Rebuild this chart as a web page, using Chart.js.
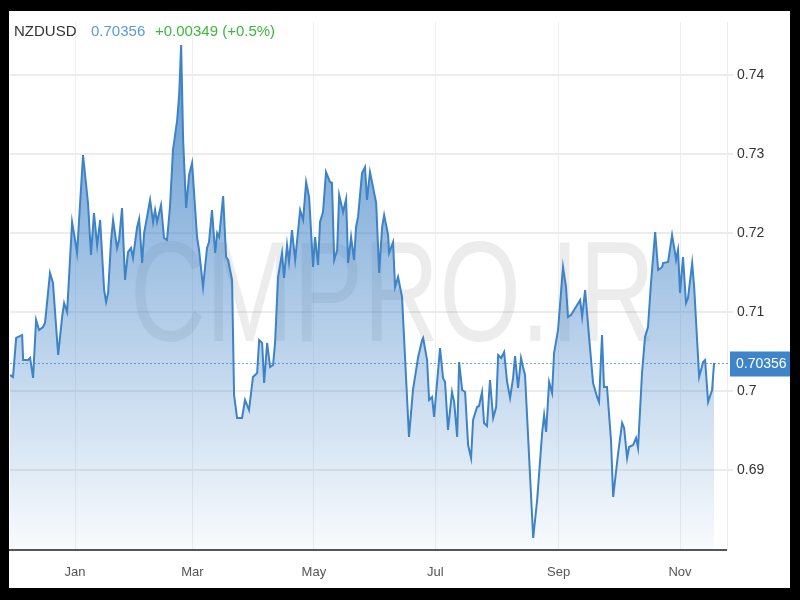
<!DOCTYPE html>
<html>
<head>
<meta charset="utf-8">
<script src="https://cdn.jsdelivr.net/npm/chart.js@4/dist/chart.umd.min.js"></script>
<style>
  html, body { margin: 0; padding: 0; background: #000; }
  #frame { position: absolute; left: 9px; top: 11px; width: 781px; height: 577px; background: #fff; }
  #wrap { position: absolute; left: 0; top: 0; width: 800px; height: 600px; }
  .hdr { position: absolute; top: 22px; font: 15px "Liberation Sans", Arial, sans-serif; line-height: 18px; white-space: nowrap; }
</style>
</head>
<body>
<div id="frame"></div>
<div id="wrap"><canvas id="c" width="800" height="600"></canvas></div>
<div class="hdr" style="left:14px;color:#333;">NZDUSD</div>
<div class="hdr" style="left:91px;color:#5a9ad6;">0.70356</div>
<div class="hdr" style="left:155px;color:#3cb83c;">+0.00349 (+0.5%)</div>
<script>
// Day offsets from Jan 1 (negative = previous December)
const days = [
-32.7,-31.2,-29.6,-26.6,-26.1,-23.6,-22.6,-21.1,-19.6,-18.1,-16.1,-15.1,-12.6,-11.1,-8.5,-6.5,-5.5,-4.0,-1.5,0,
1.0,4.0,6.5,8.0,9.5,11.1,12.6,14.6,15.6,16.6,18.1,19.1,21.1,22.1,23.6,25.1,26.6,28.1,29.1,31.2,
32.2,33.7,34.7,37.7,39.2,40.2,41.2,43.2,44.7,46.2,47.7,49.2,51.3,52.3,53.3,54.3,55.8,57.3,58.8,61.3,
62.3,64.3,66.3,67.3,68.8,70.4,71.4,72.4,74.4,75.9,76.9,78.9,79.9,81.4,83.9,85.4,87.4,89.4,91.5,92.5,
94.0,95.0,96.5,98.0,99.5,100.5,102.0,104.0,105.0,106.5,107.5,109.0,110.6,113.1,114.6,116.1,117.6,119.6,120.6,122.1,
123.1,124.6,126.1,128.1,129.1,130.2,131.7,132.7,134.7,136.2,137.2,138.7,140.2,141.2,142.2,144.2,145.7,146.7,148.2,151.3,
152.8,154.3,155.3,157.3,157.8,159.8,160.8,162.3,164.3,167.8,169.8,172.4,174.4,174.9,176.9,177.9,179.4,180.4,183.4,184.9,
185.9,187.4,189.4,190.5,192.0,193.0,194.5,196.0,197.5,199.0,200.0,202.0,203.0,204.5,205.5,207.0,208.5,210.1,211.6,212.6,
214.1,215.6,217.1,218.6,220.1,221.1,222.6,224.1,225.1,226.1,230.2,232.2,234.7,235.7,236.7,238.2,239.7,240.7,242.7,245.2,
246.7,247.7,249.2,252.3,253.8,254.8,256.3,258.3,260.3,262.3,263.3,264.8,265.8,267.3,269.3,270.4,272.9,274.9,275.9,277.4,
278.4,280.4,281.9,282.9,284.9,286.4,287.9,289.4,291.5,293.0,295.0,295.5,298.0,300.0,301.5,302.0,303.0,304.0,305.5,307.0,
308.0,310.1,311.1,313.6,315.6,316.6,318.1,320.1,321.1
];
const rates = [
0.70203,0.70177,0.70671,0.70709,0.70392,0.70392,0.70418,0.70165,0.70899,0.70772,0.70810,0.70861,0.71494,0.71367,0.70456,0.70937,0.71114,0.71000,0.72139,0.71911,
0.71747,0.72987,0.72380,0.71722,0.72253,0.71848,0.72165,0.71278,0.71127,0.71241,0.71911,0.72165,0.71810,0.71911,0.72316,0.71405,0.71759,0.71810,0.71684,0.72076,
0.72177,0.71620,0.72000,0.72418,0.72139,0.72291,0.72139,0.72354,0.71937,0.71911,0.72329,0.73051,0.73430,0.73747,0.74380,0.73177,0.72316,0.72734,0.72886,0.71949,
0.71785,0.71316,0.71810,0.71886,0.72291,0.71747,0.72000,0.71949,0.72468,0.71696,0.71658,0.71405,0.69949,0.69658,0.69658,0.69886,0.69759,0.70177,0.70228,0.70646,
0.70608,0.70101,0.70608,0.70304,0.70329,0.70608,0.71443,0.71747,0.71430,0.71848,0.71633,0.72038,0.71658,0.72291,0.72165,0.72646,0.72456,0.71570,0.71949,0.71595,
0.72139,0.72266,0.72772,0.72646,0.72633,0.71658,0.71785,0.72481,0.72266,0.72430,0.71620,0.71949,0.71658,0.72076,0.72203,0.72759,0.72835,0.72418,0.72772,0.72380,
0.71494,0.72076,0.72228,0.71975,0.71747,0.71886,0.71316,0.71443,0.71190,0.69418,0.70013,0.70430,0.70646,0.70671,0.70392,0.69886,0.69924,0.69671,0.70544,0.70165,
0.70114,0.69506,0.69987,0.69861,0.69418,0.70367,0.70013,0.69987,0.69316,0.69152,0.69633,0.69797,0.69810,0.69987,0.69595,0.69557,0.70139,0.69658,0.69797,0.70456,
0.70418,0.70494,0.70114,0.69911,0.70165,0.70443,0.70038,0.70418,0.70304,0.70203,0.68139,0.68620,0.69468,0.69696,0.69481,0.70114,0.69975,0.70481,0.70772,0.71570,
0.71316,0.70937,0.70962,0.71089,0.71152,0.70937,0.71278,0.70684,0.70101,0.69924,0.69861,0.70709,0.70051,0.70051,0.69380,0.68658,0.69215,0.69595,0.69532,0.69152,
0.69291,0.69316,0.69405,0.69278,0.70228,0.70684,0.70810,0.71367,0.72013,0.71532,0.71570,0.71620,0.71633,0.71975,0.71747,0.71658,0.71785,0.71241,0.71696,0.71114,
0.71177,0.71620,0.71316,0.70177,0.70367,0.70392,0.69861,0.70013,0.70356
];
const monthDays = [0, 59, 120, 181, 243, 304];
const monthLabels = ["Jan", "Mar", "May", "Jul", "Sep", "Nov"];
const yTicks = [0.69, 0.70, 0.71, 0.72, 0.73, 0.74];
const lastPrice = 0.70356;
const watermark = "CMPRO.IR";

const points = days.map((d, i) => ({ x: d, y: rates[i] }));

const overlay = {
  id: 'overlay',
  beforeDatasetsDraw(chart) {
    const ctx = chart.ctx;
    ctx.save();
    ctx.font = '142px "Liberation Sans", Arial, sans-serif';
    ctx.fillStyle = 'rgba(120,120,120,0.14)';
    ctx.textBaseline = 'alphabetic';
    ctx.textAlign = 'left';
    ctx.fillText(watermark, 130, 341, 525);
    ctx.restore();
  },
  afterDatasetsDraw(chart) {
    const ctx = chart.ctx;
    const y = Math.round(chart.scales.y.getPixelForValue(lastPrice)) + 0.5;
    const a = chart.chartArea;
    ctx.save();
    ctx.strokeStyle = 'rgba(61,133,200,0.75)';
    ctx.lineWidth = 1;
    ctx.setLineDash([2, 2]);
    ctx.beginPath();
    ctx.moveTo(a.left, y);
    ctx.lineTo(731, y);
    ctx.stroke();
    ctx.setLineDash([]);
    ctx.fillStyle = '#3d85c8';
    ctx.fillRect(730, y - 12, 60, 25);
    ctx.fillStyle = '#ffffff';
    ctx.font = '14px "Liberation Sans", Arial, sans-serif';
    ctx.textBaseline = 'middle';
    ctx.textAlign = 'left';
    ctx.fillText(lastPrice.toFixed(5), 736, y + 1);
    ctx.restore();
  }
};

new Chart(document.getElementById('c'), {
  type: 'line',
  data: {
    datasets: [{
      data: points,
      borderColor: '#3d83c6',
      borderWidth: 2,
      pointRadius: 0,
      tension: 0,
      fill: 'start',
      backgroundColor(context) {
        const a = context.chart.chartArea;
        if (!a) return 'rgba(59,128,196,0.4)';
        const g = context.chart.ctx.createLinearGradient(0, a.top, 0, a.bottom);
        g.addColorStop(0, 'rgba(58,127,198,0.85)');
        g.addColorStop(1, 'rgba(58,127,198,0.03)');
        return g;
      }
    }]
  },
  options: {
    responsive: false,
    animation: false,
    layout: { padding: { left: 10, right: 10, top: 22, bottom: 12 } },
    plugins: { legend: { display: false }, tooltip: { enabled: false } },
    scales: {
      x: {
        type: 'linear',
        min: -32.7,
        max: 327.6,
        afterBuildTicks(scale) { scale.ticks = monthDays.map(v => ({ value: v })); },
        afterFit(scale) { scale.height = 38; },
        ticks: {
          autoSkip: false,
          maxRotation: 0,
          padding: 15,
          color: '#555',
          font: { size: 13, family: '"Liberation Sans", Arial, sans-serif' },
          callback(value) { const i = monthDays.indexOf(value); return i >= 0 ? monthLabels[i] : ''; }
        },
        grid: { color: '#eeeeee', lineWidth: 1, drawTicks: false },
        border: { display: true, color: '#555555', width: 2 }
      },
      y: {
        position: 'right',
        min: 0.67987,
        max: 0.74671,
        afterBuildTicks(scale) { scale.ticks = yTicks.map(v => ({ value: v })); },
        afterFit(scale) { scale.width = 63; },
        ticks: {
          padding: 4,
          color: '#333',
          font: { size: 14, family: '"Liberation Sans", Arial, sans-serif' },
          callback(value) { return String(+value.toFixed(2)); }
        },
        grid: { color: '#ececec', lineWidth: 2, tickLength: 6 },
        border: { display: true, color: '#ececec', width: 1 }
      }
    }
  },
  plugins: [overlay]
});
</script>
</body>
</html>
